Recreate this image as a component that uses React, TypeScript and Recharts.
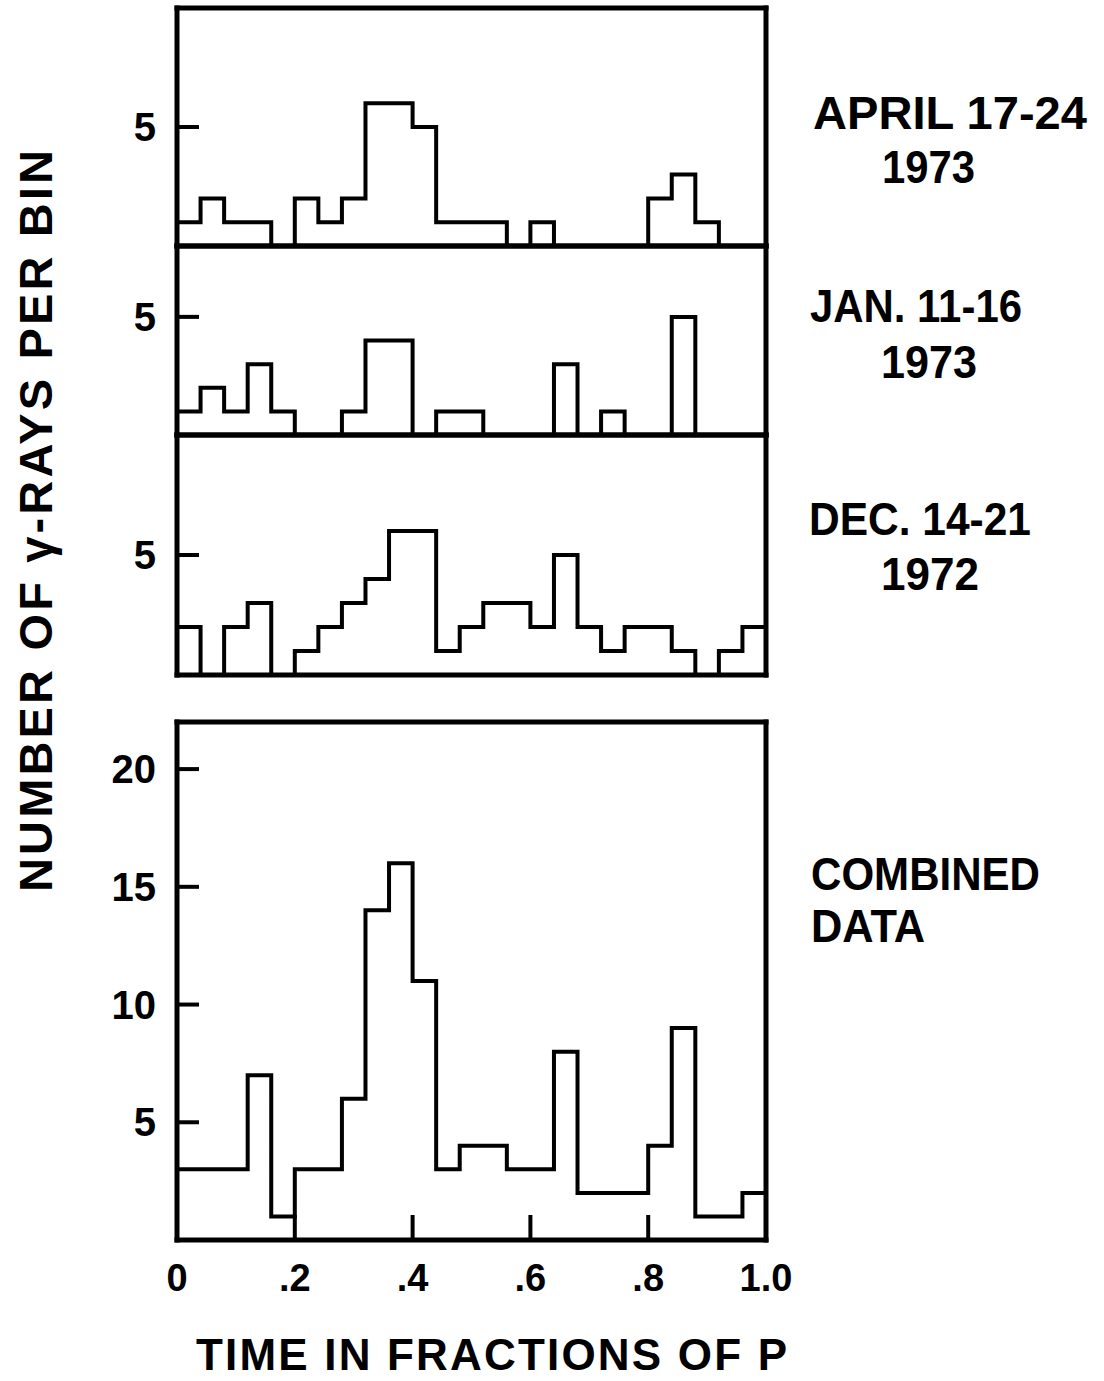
import { LineChart, Line, XAxis, YAxis } from "recharts";

// bin edges, 25 bins of 0.04 in phase
const binEdges = [
  0, 0.04, 0.08, 0.12, 0.16, 0.2, 0.24, 0.28, 0.32, 0.36, 0.4, 0.44, 0.48,
  0.52, 0.56, 0.6, 0.64, 0.68, 0.72, 0.76, 0.8, 0.84, 0.88, 0.92, 0.96, 1.0,
];

// counts per bin
const april1973 = [1, 2, 1, 1, 0, 2, 1, 2, 6, 6, 5, 1, 1, 1, 0, 1, 0, 0, 0, 0, 2, 3, 1, 0, 0];
const jan1973 = [1, 2, 1, 3, 1, 0, 0, 1, 4, 4, 0, 1, 1, 0, 0, 0, 3, 0, 1, 0, 0, 5, 0, 0, 0];
const dec1972 = [2, 0, 2, 3, 0, 1, 2, 3, 4, 6, 6, 1, 2, 3, 3, 2, 5, 2, 1, 2, 2, 1, 0, 1, 2];
const combined = [3, 3, 3, 7, 1, 3, 3, 6, 14, 16, 11, 3, 4, 4, 3, 3, 8, 2, 2, 2, 4, 9, 1, 1, 2];

const xTickValues = [0, 0.2, 0.4, 0.6, 0.8, 1.0];
const innerXTicks = [0.2, 0.4, 0.6, 0.8];
const smallYTicks = [5];
const bigYTicks = [5, 10, 15, 20];

const FONT = "'Liberation Sans', Arial, sans-serif";
const PLOT_L = 177;
const PLOT_R = 766;
const CHART_W = 800;
const YW = 60;

// stepAfter needs the last value repeated at the right edge
const toSteps = (counts: number[]) =>
  binEdges.map((x, i) => ({ x, n: counts[Math.min(i, counts.length - 1)] }));

const fmtX = (v: number) => (v === 0 ? "0" : v === 1 ? "1.0" : String(v).replace(/^0/, ""));

const border = { stroke: "#000", strokeWidth: 5, strokeLinecap: "square" as const };
const tickStroke = { stroke: "#000", strokeWidth: 4 };

const Panel = ({ counts, top, bottom, yMax, yTicks, topTicks, bottomTicks, labelled }: any) => {
  const plotH = bottom - top;
  const axisH = labelled ? 60 : 0;
  const m = 10;
  return (
    <div style={{ position: "absolute", left: 0, top: top - m }}>
      <LineChart
        width={CHART_W}
        height={plotH + 2 * m + axisH}
        data={toSteps(counts)}
        margin={{ top: m, bottom: m, left: PLOT_L - YW, right: CHART_W - PLOT_R }}
      >
        {labelled ? (
          <XAxis
            xAxisId="b"
            dataKey="x"
            type="number"
            domain={[0, 1]}
            ticks={xTickValues}
            interval={0}
            height={axisH}
            tickSize={-25}
            tickMargin={49}
            tickFormatter={fmtX}
            tick={{ fill: "#000", fontSize: 38, fontFamily: FONT, fontWeight: 700 }}
            axisLine={border}
            tickLine={tickStroke}
          />
        ) : (
          <XAxis
            xAxisId="b"
            dataKey="x"
            type="number"
            domain={[0, 1]}
            mirror
            ticks={bottomTicks || []}
            interval={0}
            tickSize={25}
            tick={false}
            axisLine={border}
            tickLine={bottomTicks ? tickStroke : false}
          />
        )}
        <XAxis
          xAxisId="t"
          dataKey="x"
          type="number"
          orientation="top"
          domain={[0, 1]}
          mirror
          ticks={topTicks || []}
          interval={0}
          tickSize={25}
          tick={false}
          axisLine={border}
          tickLine={topTicks ? tickStroke : false}
        />
        <YAxis
          yAxisId="l"
          type="number"
          width={YW}
          domain={[0, yMax]}
          allowDataOverflow
          ticks={yTicks}
          interval={0}
          tickSize={-22}
          tickMargin={43}
          tick={{ fill: "#000", fontSize: 40, fontFamily: FONT, fontWeight: 700 }}
          axisLine={border}
          tickLine={tickStroke}
        />
        <YAxis
          yAxisId="r"
          type="number"
          orientation="right"
          mirror
          domain={[0, yMax]}
          allowDataOverflow
          ticks={yTicks}
          interval={0}
          tickSize={22}
          tick={false}
          axisLine={border}
          tickLine={tickStroke}
        />
        <Line
          xAxisId="b"
          yAxisId="l"
          type="stepAfter"
          dataKey="n"
          stroke="#000"
          strokeWidth={4}
          dot={false}
          isAnimationActive={false}
        />
      </LineChart>
    </div>
  );
};

const Label = ({ x, y, len, children }: any) => (
  <text
    x={x}
    y={y}
    textLength={len}
    lengthAdjust="spacingAndGlyphs"
    fontSize={47}
    fontWeight={700}
    fontFamily={FONT}
    fill="#000"
  >
    {children}
  </text>
);

export default function App() {
  return (
    <div style={{ position: "absolute", left: 0, top: 0, width: 1104, height: 1381, background: "#fff" }}>
      <Panel counts={april1973} top={8} bottom={246} yMax={10} yTicks={smallYTicks} topTicks={innerXTicks} />
      <Panel counts={jan1973} top={246} bottom={435} yMax={8} yTicks={smallYTicks} />
      <Panel counts={dec1972} top={435} bottom={675} yMax={10} yTicks={smallYTicks} bottomTicks={innerXTicks} />
      <Panel counts={combined} top={722} bottom={1240} yMax={22} yTicks={bigYTicks} labelled />
      <svg
        width={1104}
        height={1381}
        style={{ position: "absolute", left: 0, top: 0, pointerEvents: "none" }}
      >
        <Label x={813} y={129} len={274}>APRIL 17-24</Label>
        <Label x={882} y={183} len={93}>1973</Label>
        <Label x={810} y={322} len={212}>JAN. 11-16</Label>
        <Label x={881} y={378} len={96}>1973</Label>
        <Label x={809} y={535} len={222}>DEC. 14-21</Label>
        <Label x={881} y={590} len={98}>1972</Label>
        <Label x={811} y={890} len={229}>COMBINED</Label>
        <Label x={811} y={942} len={114}>DATA</Label>
        <text
          x={196}
          y={1370}
          textLength={591}
          lengthAdjust="spacing"
          fontSize={44}
          fontWeight={700}
          fontFamily={FONT}
          fill="#000"
        >
          TIME IN FRACTIONS OF P
        </text>
        <text
          transform="translate(52, 521) rotate(-90)"
          textAnchor="middle"
          textLength={742}
          lengthAdjust="spacing"
          fontSize={47}
          fontWeight={700}
          fontFamily={FONT}
          fill="#000"
        >
          NUMBER OF γ-RAYS PER BIN
        </text>
      </svg>
    </div>
  );
}
